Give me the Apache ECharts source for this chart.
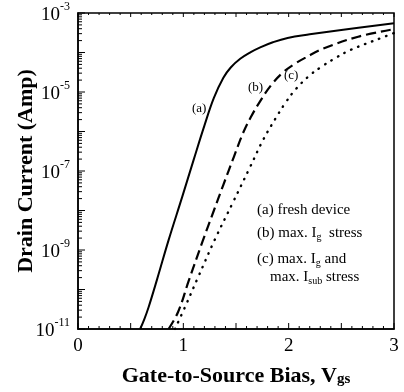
<!DOCTYPE html>
<html>
<head>
<meta charset="utf-8">
<script src="https://cdn.jsdelivr.net/npm/echarts@6/dist/echarts.min.js"></script>
<style>
html, body { margin: 0; padding: 0; background: #fff; }
#chart { width: 404px; height: 392px; }
</style>
</head>
<body>
<div id="chart"></div>
<script>
// (a) fresh device
const vgsA = [0.59, 0.63, 0.67, 0.75, 0.86, 0.99, 1.10, 1.20, 1.29, 1.38, 1.45, 1.54, 1.64, 1.73, 1.85, 1.99, 2.20, 2.50, 3.00]
const idA = [1.0e-11, 1.78e-11, 3.55e-11, 1.78e-10, 1.78e-9, 2.24e-8, 2.0e-7, 1.41e-6, 7.08e-6, 2.29e-5, 4.17e-5, 6.92e-5, 1.02e-4, 1.35e-4, 1.82e-4, 2.34e-4, 2.88e-4, 3.72e-4, 5.5e-4]

// (b) max. Ig stress
const vgsB = [0.86, 0.95, 1.05, 1.18, 1.29, 1.38, 1.48, 1.57, 1.64, 1.73, 1.83, 1.94, 2.05, 2.16, 2.33, 2.66, 3.00]
const idB = [1.0e-11, 2.69e-11, 1.62e-10, 1.58e-9, 1.0e-8, 4.47e-8, 2.29e-7, 9.55e-7, 2.29e-6, 5.89e-6, 1.45e-5, 3.02e-5, 5.01e-5, 7.41e-5, 1.26e-4, 2.51e-4, 3.89e-4]

// (c) max. Ig and max. Isub stress
const vgsC = [0.92, 1.02, 1.14, 1.30, 1.47, 1.63, 1.76, 1.88, 1.97, 2.07, 2.20, 2.30, 2.45, 2.59, 2.88, 3.00]
const idC = [1.0e-11, 3.8e-11, 2.04e-10, 1.86e-9, 1.58e-8, 1.2e-7, 6.31e-7, 2.24e-6, 5.37e-6, 1.2e-5, 2.63e-5, 4.17e-5, 7.41e-5, 1.17e-4, 2.34e-4, 3.09e-4]

const xTickValues = [0, 1, 2, 3]
const xMajorTicks = [0, 0.5, 1, 1.5, 2, 2.5, 3]
const yMajorTicks = [1e-11, 1e-10, 1e-9, 1e-8, 1e-7, 1e-6, 1e-5, 1e-4, 1e-3]
const yLabelTicks = [1e-11, 1e-9, 1e-7, 1e-5, 1e-3]

// minor ticks: every 0.1 V, and 2..9 of every decade
const xMinorTicks = []
for (let k = 1; k < 30; k++) if (k % 5) xMinorTicks.push(k / 10)
const yMinorTicks = []
for (let e = -11; e < -3; e++) {
  for (let m = 2; m <= 9; m++) yMinorTicks.push(m * Math.pow(10, e))
}

const serif = 'Liberation Serif'
const chart = echarts.init(document.getElementById('chart'), null, { renderer: 'canvas' })

function pairs(xs, ys) {
  return xs.map((x, i) => [x, ys[i]])
}

// tick marks drawn through the axes' own scales (inward, like the original)
function tickSeries(values, side, len) {
  return {
    type: 'custom', silent: true, clip: false, z: 5,
    data: values.map(v => {
      if (side === 'bottom') return [v, 1e-11]
      if (side === 'top') return [v, 1e-3]
      return [0, v]
    }),
    renderItem: (params, api) => {
      const p = api.coord([api.value(0), api.value(1)])
      let shape
      if (side === 'bottom') shape = { x1: p[0], y1: p[1], x2: p[0], y2: p[1] - len }
      else if (side === 'top') shape = { x1: p[0], y1: p[1], x2: p[0], y2: p[1] + len }
      else shape = { x1: p[0], y1: p[1], x2: p[0] + len, y2: p[1] }
      return { type: 'line', shape, style: { stroke: '#000', lineWidth: 1 } }
    }
  }
}

const subRich = {
  t: { fontFamily: serif, fontSize: 15, fill: '#000', lineHeight: 18 },
  s: { fontFamily: serif, fontSize: 10, fill: '#000', lineHeight: 10, verticalAlign: 'bottom' }
}

const option = {
  animation: false,
  grid: {
    left: 78, right: 10, top: 13, bottom: 62,
    show: true, borderColor: '#000', borderWidth: 1.5
  },
  xAxis: {
    type: 'value', min: 0, max: 3, interval: 0.5,
    axisLine: { show: true, lineStyle: { color: '#000', width: 1.5 } },
    axisTick: { show: false },
    minorTick: { show: false },
    splitLine: { show: false },
    axisLabel: {
      customValues: xTickValues,
      margin: 8, color: '#000', fontFamily: serif, fontSize: 19
    },
    name: '{t|Gate-to-Source Bias, V}{s|gs}',
    nameLocation: 'middle', nameGap: 36, nameMoveOverlap: false,
    nameTextStyle: {
      rich: {
        t: { fontFamily: serif, fontWeight: 'bold', fontSize: 22, color: '#000', lineHeight: 22 },
        s: { fontFamily: serif, fontWeight: 'bold', fontSize: 15, color: '#000', lineHeight: 14, verticalAlign: 'bottom' }
      }
    }
  },
  yAxis: {
    type: 'log', min: 1e-11, max: 1e-3,
    axisLine: { show: true, lineStyle: { color: '#000', width: 1.5 } },
    axisTick: { show: false },
    splitLine: { show: false },
    axisLabel: {
      customValues: yLabelTicks, margin: 8,
      formatter: v => '{b|10}{s|' + Math.round(Math.log10(v)) + '}',
      rich: {
        b: { fontFamily: serif, fontSize: 19, color: '#000', lineHeight: 24, verticalAlign: 'bottom' },
        s: { fontFamily: serif, fontSize: 12, color: '#000', lineHeight: 14, verticalAlign: 'top' }
      }
    },
    name: 'Drain Current (Amp)',
    nameLocation: 'middle', nameGap: 41, nameMoveOverlap: false,
    nameTextStyle: { fontFamily: serif, fontWeight: 'bold', fontSize: 22, color: '#000' }
  },
  series: [
    {
      name: '(a)', type: 'line', data: pairs(vgsA, idA), showSymbol: false,
      smooth: 0.4, lineStyle: { color: '#000', width: 2 }
    },
    {
      name: '(b)', type: 'line', data: pairs(vgsB, idB), showSymbol: false,
      smooth: 0.4, lineStyle: { color: '#000', width: 2.2, type: [10, 5] }
    },
    {
      name: '(c)', type: 'line', data: pairs(vgsC, idC), showSymbol: false,
      smooth: 0.4, lineStyle: { color: '#000', width: 2.4, type: [0.5, 7], cap: 'round' }
    },
    tickSeries(xMajorTicks, 'bottom', 6),
    tickSeries(xMinorTicks, 'bottom', 3),
    tickSeries(xMajorTicks, 'top', 4),
    tickSeries(xMinorTicks, 'top', 2),
    tickSeries(yMajorTicks, 'left', 7),
    tickSeries(yMinorTicks, 'left', 4)
  ],
  graphic: [
    { type: 'text', left: 192, top: 102, style: { text: '(a)', font: '13px "Liberation Serif"', fill: '#000' } },
    { type: 'text', left: 248, top: 81, style: { text: '(b)', font: '13px "Liberation Serif"', fill: '#000' } },
    { type: 'text', left: 284, top: 69, style: { text: '(c)', font: '13px "Liberation Serif"', fill: '#000' } },
    { type: 'text', left: 257, top: 203, style: { text: '(a) fresh device', font: '15px "Liberation Serif"', fill: '#000' } },
    { type: 'text', left: 257, top: 226, style: { text: '{t|(b) max. I}{s|g}{t|  stress}', rich: subRich } },
    { type: 'text', left: 257, top: 252, style: { text: '{t|(c) max. I}{s|g}{t| and}', rich: subRich } },
    { type: 'text', left: 270, top: 270, style: { text: '{t|max. I}{s|sub}{t| stress}', rich: subRich } }
  ]
}

chart.setOption(option)
</script>
</body>
</html>
